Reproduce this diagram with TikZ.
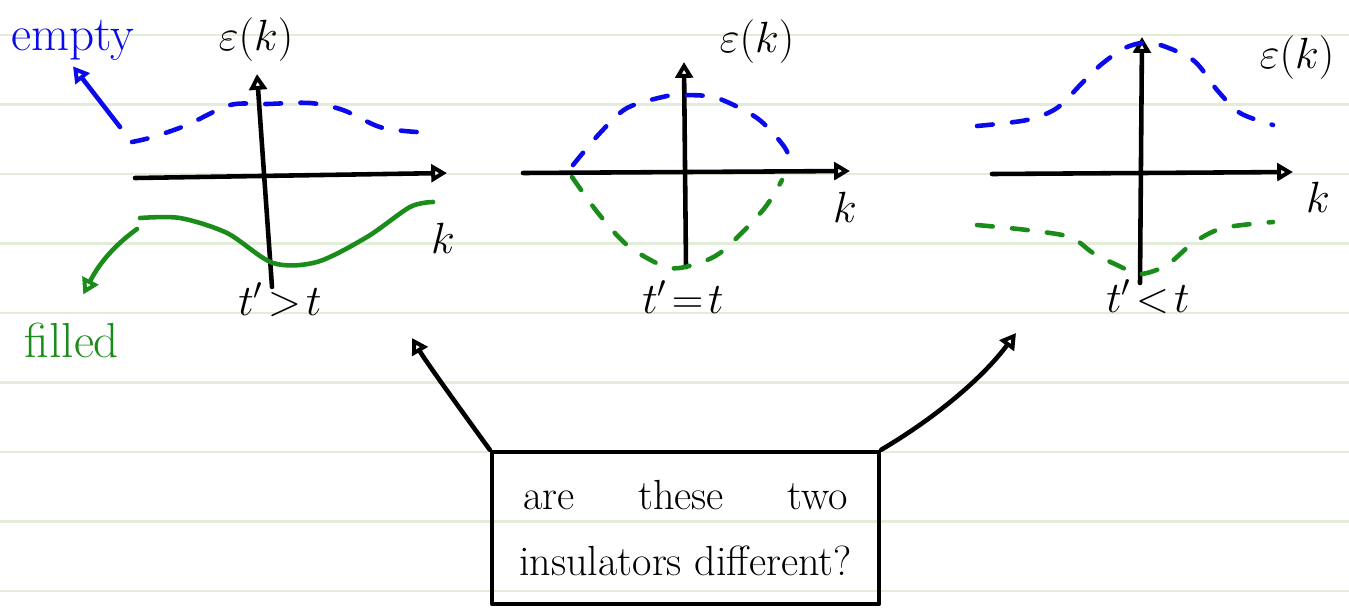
\documentclass[tikz,border=0pt]{standalone}
\usepackage{amsmath}
\usepackage{xcolor}
\usepackage{tikz}
\usetikzlibrary{arrows.meta}
\definecolor{penblue}{RGB}{10,10,235}
\definecolor{pengreen}{RGB}{25,140,25}
\definecolor{ruling}{RGB}{226,236,216}

\begin{document}
\begin{tikzpicture}[x=0.02cm,y=-0.02cm,>={Triangle[open,length=9pt,width=10pt]},
pen/.style={line width=2.6pt,line cap=round,line join=round},
band/.style={pen,dash pattern=on 9pt off 11pt},
lbl/.style={font=\fontsize{26}{30}\selectfont}]
\fill[white](0,0)rectangle(1349,609);
\useasboundingbox(0,0)rectangle(1349,609);
\foreach \i in {0,...,8}
\draw[ruling,line width=1.2pt](0,{35+69.5*\i})--(1349,{35+69.5*\i});
% t' > t
\draw[pen,->](135,178)--(447,173);
\draw[pen,->](272,287)--(257,74);
\draw[band,penblue]plot[smooth]coordinates{(132,142)(153,137)(187,125)(230,105)(267,104)(310,103)(343,110)(383,128)(433,133)};
\draw[pen,pengreen]plot[smooth]coordinates{(140,218)(180,218)(227,233)(273,263)(317,262)(367,237)(410,207)(433,202)};
\node[lbl](epsA)at(256,40){$\varepsilon(k)$};
\node[lbl](kA)at(443,238){$k$};
\node[lbl](condA)at(280,300){$t'\!>\!t$};
\node[lbl,penblue,font=\fontsize{28}{32}\selectfont](empty)at(73,40){empty};
\node[lbl,pengreen,font=\fontsize{28}{32}\selectfont](filled)at(72,340){filled};
\coordinate(bandA)at(120,127);
\coordinate(bandB)at(137,229);
\draw[pen,penblue,->](bandA)--(empty.south);
\draw[pen,pengreen,->,shorten >=14pt](bandB)..controls(115,245)and(100,262)..(filled.north);
% t' = t
\draw[pen,->](523,173)--(850,171);
\draw[pen,->](686,267)--(684,62);
\draw[band,penblue]plot[smooth]coordinates{(573,165)(600,133)(627,108)(667,96)(685,95)(717,98)(757,118)(783,145)(793,165)};
\draw[band,pengreen]plot[smooth]coordinates{(572,177)(598,213)(627,245)(663,266)(685,267)(720,253)(763,210)(782,180)};
\node[lbl](epsB)at(757,42){$\varepsilon(k)$};
\node[lbl](kB)at(845,207){$k$};
\node[lbl](condB)at(683,297){$t'\!=\!t$};
% t' < t
\draw[pen,->](992,174)--(1293,172);
\draw[pen,->](1140,283)--(1142,37);
\draw[band,penblue]plot[smooth]coordinates{(977,126)(1027,120)(1057,108)(1083,82)(1103,63)(1127,47)(1153,43)(1193,60)(1217,90)(1240,113)(1273,125)};
\draw[band,pengreen]plot[smooth]coordinates{(977,225)(1027,230)(1070,237)(1093,253)(1117,265)(1140,274)(1167,265)(1193,243)(1223,228)(1273,222)};
\node[lbl](epsC)at(1297,58){$\varepsilon(k)$};
\node[lbl](kC)at(1318,197){$k$};
\node[lbl](condC)at(1148,297){$t'\!<\!t$};
% question
\node[draw,pen,minimum width=7.74cm,minimum height=3.04cm,align=center,font=\fontsize{24}{38}\selectfont](question)at(685.5,528){are\hspace{1.5em}these\hspace{1.5em}two\\insulators different?};
\coordinate(gapA)at(412,338);
\coordinate(gapB)at(1016,333);
\draw[pen,->](question.north west)..controls(450,395)and(425,360)..(gapA);
\draw[pen,->](question.north east)..controls(940,415)and(985,375)..(gapB);
\end{tikzpicture}
\end{document}
